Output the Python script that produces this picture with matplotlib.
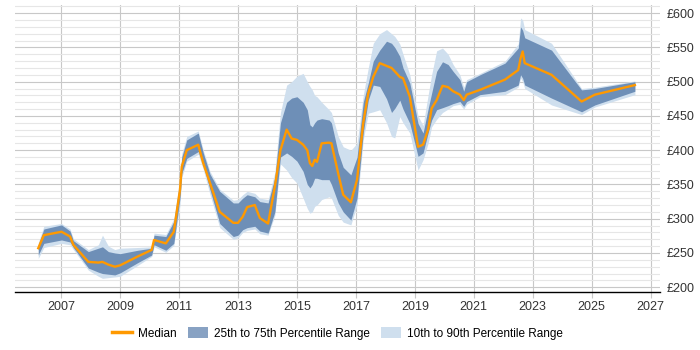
import matplotlib

matplotlib.use("Agg")
import matplotlib.pyplot as plt
from matplotlib.patches import Patch
from matplotlib.lines import Line2D
from matplotlib.ticker import FixedLocator, FuncFormatter, MultipleLocator

years = [
    2006.22, 2006.41, 2007.01, 2007.30, 2007.41, 2007.92, 2008.26, 2008.40,
    2008.60, 2008.82, 2009.00, 2009.60, 2010.07, 2010.15, 2010.55, 2010.82,
    2011.03, 2011.09, 2011.26, 2011.65, 2011.82, 2012.05, 2012.38, 2012.84,
    2013.00, 2013.16, 2013.31, 2013.57, 2013.74, 2014.02, 2014.25, 2014.44,
    2014.65, 2014.82, 2015.00, 2015.21, 2015.35, 2015.44, 2015.52, 2015.60,
    2015.68, 2015.84, 2016.09, 2016.17, 2016.40, 2016.57, 2016.83, 2017.04,
    2017.25, 2017.42, 2017.59, 2017.81, 2018.04, 2018.21, 2018.32, 2018.49,
    2018.60, 2018.83, 2019.11, 2019.28, 2019.45, 2019.57, 2019.74, 2019.94,
    2020.13, 2020.30, 2020.53, 2020.66, 2020.76, 2021.21, 2022.06, 2022.51,
    2022.59, 2022.66, 2022.73, 2023.64, 2024.66, 2025.11, 2026.47,
]
p10 = [
    242, 258, 264, 262, 255, 225, 216, 213, 214, 215, 216, 232, 245, 259,
    251, 261, 320, 360, 384, 394, 372, 335, 287, 270, 272, 280, 283, 285,
    278, 276, 305, 380, 371, 360, 352, 330, 315, 308, 310, 318, 320, 328,
    332, 330, 305, 295, 291, 320, 415, 454, 456, 459, 440, 420, 418, 449,
    440, 425, 371, 386, 410, 434, 445, 455, 460, 465, 467, 460, 467, 478,
    481, 492, 505, 500, 490, 466, 452, 463, 481,
]
p25 = [
    247, 264, 269, 266, 258, 228, 222, 220, 219, 218, 221, 236, 247, 262,
    254, 264, 330, 366, 388, 398, 378, 342, 293, 274, 276, 284, 287, 289,
    282, 279, 310, 390, 396, 391, 384, 369, 350, 345, 350, 359, 359, 357,
    357, 350, 323, 310, 298, 330, 425, 473, 495, 493, 475, 455, 461, 473,
    460, 439, 391, 396, 425, 444, 459, 462, 465, 468, 471, 464, 471, 481,
    486, 495, 510, 505, 495, 476, 456, 466, 486,
]
median = [
    257, 276, 281, 274, 262, 237, 236, 237, 233, 230, 232, 245, 254.5, 269,
    264, 281, 342, 376, 400, 408, 381, 352, 310, 294, 294, 303, 317, 320,
    301, 293, 347, 400, 430, 417, 415, 408, 400, 381, 377, 386, 383, 410,
    411, 410, 366, 335, 324, 357, 440, 483, 507, 527, 523, 520, 515, 507,
    505, 478, 405, 408, 430, 461, 473, 494, 492, 486, 481, 473, 481, 488,
    503, 517, 534, 544, 527, 510, 471, 481, 495,
]
p75 = [
    262, 285, 291, 282, 268, 252, 257, 259, 252, 250, 249, 254, 257, 276,
    274, 296, 355, 390, 415, 425, 396, 365, 340, 323, 323, 330, 335, 332,
    325, 323, 360, 440, 470, 476, 478, 470, 459, 437, 434, 440, 444, 446,
    444, 440, 396, 375, 364, 390, 470, 498, 530, 546, 559, 556, 550, 537,
    520, 498, 439, 425, 460, 483, 515, 529, 525, 515, 503, 486, 500, 510,
    527, 549, 580, 575, 564, 546, 488, 490, 500,
]
p90 = [
    265, 289, 293, 285, 271, 255, 262, 276, 260, 255, 257, 258, 259, 279,
    277, 300, 360, 395, 420, 428, 400, 369, 343, 327, 328, 335, 340, 337,
    330, 328, 368, 455, 495, 500, 508, 512, 500, 493, 488, 480, 478, 470,
    459, 455, 420, 405, 400, 410, 480, 520, 556, 570, 576, 570, 566, 555,
    540, 510, 450, 436, 480, 510, 545, 549, 540, 525, 510, 492, 503, 512,
    530, 555, 593, 590, 576, 556, 490, 492, 501,
]
year_ticks = list(range(2007, 2028, 2))

color_outer = "#CFDFEE"
color_inner = "#40699E"
color_median = "#FF9900"

plt.rcParams["font.family"] = ["Liberation Sans", "DejaVu Sans"]
plt.rcParams["font.size"] = 9

fig = plt.figure(figsize=(7, 3.5), dpi=100)
ax = fig.add_axes([0.0214, 0.165, 0.9214, 0.821])

ax.fill_between(years, p10, p90, color=color_outer, linewidth=0, zorder=2)
ax.fill_between(years, p25, p75, color=color_inner, alpha=0.68, linewidth=0, zorder=3)
ax.plot(years, median, color=color_median, linewidth=1.7, zorder=4)

ax.set_xlim(2005.43, 2027.32)
ax.set_ylim(192.7, 612)

ax.xaxis.set_major_locator(FixedLocator(year_ticks))
ax.yaxis.set_major_locator(MultipleLocator(50))
ax.yaxis.set_minor_locator(MultipleLocator(10))
ax.yaxis.set_major_formatter(FuncFormatter(lambda v, _: f"£{v:.0f}"))
ax.yaxis.tick_right()

ax.grid(axis="x", which="major", color="#C8C8C8", linewidth=0.8, zorder=0)
ax.grid(axis="y", which="major", color="#C8C8C8", linewidth=0.8, zorder=0)
ax.grid(axis="y", which="minor", color="#E6E6E6", linewidth=0.8, zorder=0)
ax.set_axisbelow(True)

ax.tick_params(axis="x", length=4, color="#C8C8C8", labelcolor="#333333", pad=2)
ax.tick_params(axis="y", which="both", length=0, labelcolor="#333333", pad=5)

for side in ("top", "left", "right"):
    ax.spines[side].set_visible(False)
ax.spines["bottom"].set_color("black")
ax.spines["bottom"].set_linewidth(1.0)

handles = [
    Line2D([], [], color=color_median, linewidth=2.5),
    Patch(facecolor=color_inner, alpha=0.62, edgecolor="none"),
    Patch(facecolor=color_outer, edgecolor="none"),
]
labels = ["Median", "25th to 75th Percentile Range", "10th to 90th Percentile Range"]
fig.legend(
    handles,
    labels,
    loc="center",
    bbox_to_anchor=(0.482, 0.048),
    ncol=3,
    frameon=False,
    handlelength=1.7,
    handleheight=1.15,
    handletextpad=0.5,
    columnspacing=0.95,
    fontsize=8.5,
)

fig.savefig("out.png", dpi=100)
